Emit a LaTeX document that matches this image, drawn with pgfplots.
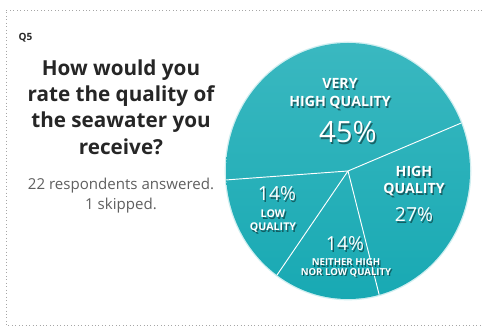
\documentclass[border=0pt]{standalone}
\usepackage{pgfplots}
\usepackage{pgfplotstable}
\pgfplotsset{compat=1.18}
\usepackage{fontspec}
\setmainfont{Open Sans}
\definecolor{pietop}{HTML}{3AB8C0}
\definecolor{piebot}{HTML}{18A9B3}
\definecolor{titlecol}{HTML}{262626}
\definecolor{subcol}{HTML}{5F5F5F}
\definecolor{bordercol}{HTML}{A6A6A6}

\pgfplotstableread[col sep=comma]{
label,value
Very high quality,45
High quality,27
Neither high nor low quality,14
Low quality,14
}\piedata

% text with soft shadow
\newcommand{\stext}[4]{% x, y(base, px from top), font, text
  \node[anchor=base,text=black,opacity=0.45,font=#3] at (axis cs:#1+1.3,328-#2-1.3) {#4};
  \node[anchor=base,text=white,font=#3] at (axis cs:#1,328-#2) {#4};
}

\begin{document}
\begin{tikzpicture}
\begin{axis}[
  width=361.5pt, height=246pt, scale only axis,
  xmin=0, xmax=482, ymin=0, ymax=328,
  hide axis, clip=false,
]
\coordinate (bl) at (rel axis cs:0,0);
\coordinate (tr) at (rel axis cs:1,1);
% dotted frame
\draw[bordercol, dotted, line width=0.6pt] (axis cs:482,318) -- (axis cs:6,318) -- (axis cs:6,2.5) -- (axis cs:482,2.5);

% left texts
\node[anchor=base west, font=\bfseries\fontsize{7.5}{9}\selectfont, text=titlecol] at (axis cs:14,328-41) {Q5};
\node[anchor=base, font=\bfseries\fontsize{15.5}{18}\selectfont, text=titlecol] at (axis cs:121,328-76) {How would you};
\node[anchor=base, font=\bfseries\fontsize{15.5}{18}\selectfont, text=titlecol] at (axis cs:121,328-102) {rate the quality of};
\node[anchor=base, font=\bfseries\fontsize{15.5}{18}\selectfont, text=titlecol] at (axis cs:121,328-128) {the seawater you};
\node[anchor=base, font=\bfseries\fontsize{15.5}{18}\selectfont, text=titlecol] at (axis cs:121,328-155) {receive?};
\node[anchor=base, font=\fontsize{11.3}{13}\selectfont, text=subcol] at (axis cs:121,328-190) {22 respondents answered.};
\node[anchor=base, font=\fontsize{11.3}{13}\selectfont, text=subcol] at (axis cs:121,328-210) {1 skipped.};

% pie
\pgfplotsextra{
  \fill[pietop!40, opacity=0.6] (axis cs:348,157) ellipse [x radius=92.5pt, y radius=97pt];
  \shade[top color=pietop, bottom color=piebot] (axis cs:348,157) ellipse [x radius=91.5pt, y radius=96pt];
  \pgfmathsetmacro\cur{184}
  \xdef\cur{\cur}
  \foreach \i in {0,...,3}{
    \pgfplotstablegetelem{\i}{value}\of\piedata
    \pgfmathsetmacro\nxt{\cur-3.6*\pgfplotsretval}
    \draw[white, line width=0.7pt] (axis cs:348,157) -- ++(\cur:91.5pt and 96pt);
    \xdef\cur{\nxt}
  }
}

\stext{340}{89}{\bfseries\fontsize{10.6}{12}\selectfont}{VERY}
\stext{340}{107}{\bfseries\fontsize{10.6}{12}\selectfont}{HIGH QUALITY}
\stext{348}{143}{\fontsize{22}{26}\selectfont}{45\%}
\stext{414}{177}{\bfseries\fontsize{10.6}{12}\selectfont}{HIGH}
\stext{414}{194}{\bfseries\fontsize{10.6}{12}\selectfont}{QUALITY}
\stext{414}{222}{\fontsize{14.5}{17}\selectfont}{27\%}
\stext{277}{201}{\fontsize{14.5}{17}\selectfont}{14\%}
\stext{273}{218}{\bfseries\fontsize{8}{9}\selectfont}{LOW}
\stext{273}{231}{\bfseries\fontsize{8}{9}\selectfont}{QUALITY}
\stext{345}{251}{\fontsize{14.5}{17}\selectfont}{14\%}
\stext{346}{266}{\bfseries\fontsize{7.2}{8}\selectfont}{NEITHER HIGH}
\stext{346}{275.5}{\bfseries\fontsize{7.2}{8}\selectfont}{NOR LOW QUALITY}
\end{axis}
\pgfresetboundingbox
\path[use as bounding box] (bl) rectangle (tr);
\end{tikzpicture}
\end{document}
